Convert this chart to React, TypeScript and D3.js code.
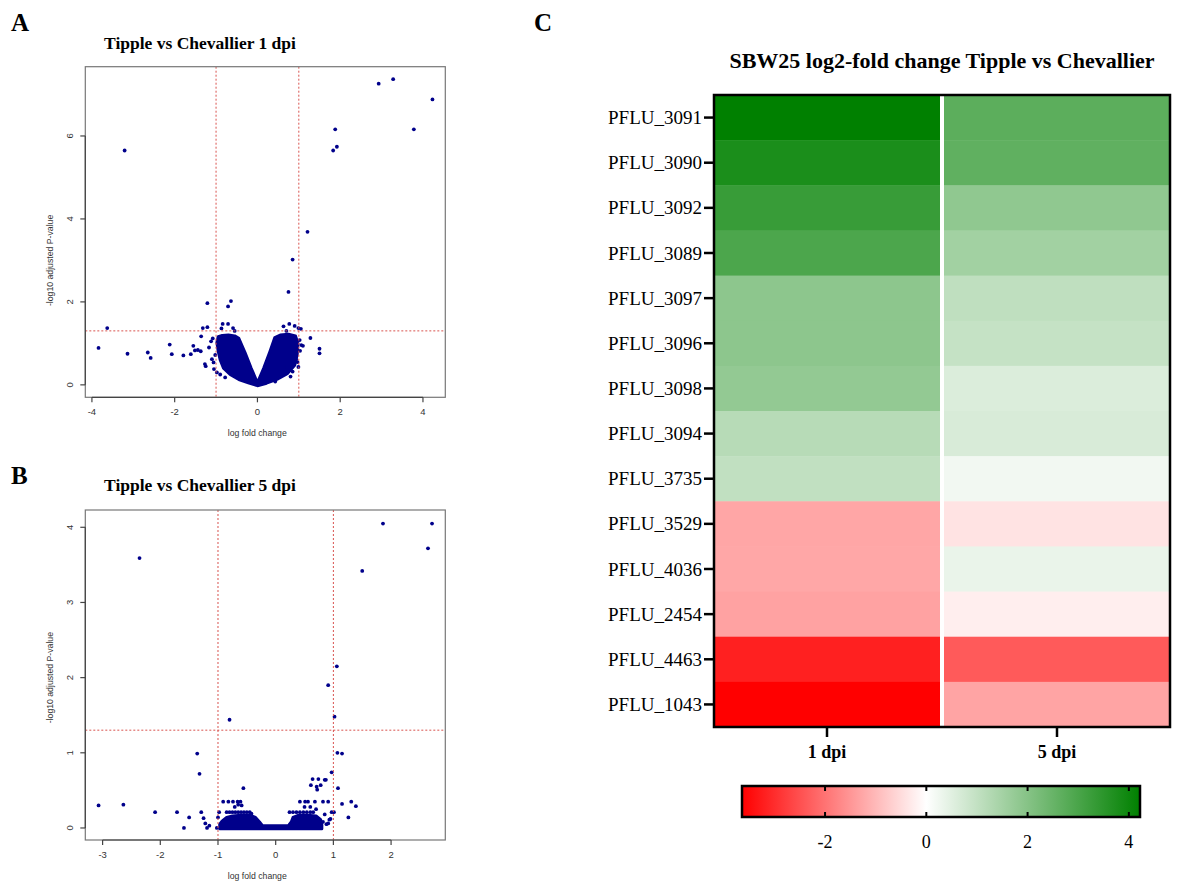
import React from "react";
import * as d3 from "d3";

// ---------- Heatmap data ----------
const genes = [
  "PFLU_3091", "PFLU_3090", "PFLU_3092", "PFLU_3089", "PFLU_3097", "PFLU_3096", "PFLU_3098",
  "PFLU_3094", "PFLU_3735", "PFLU_3529", "PFLU_4036", "PFLU_2454", "PFLU_4463", "PFLU_1043",
];
const timepoints = ["1 dpi", "5 dpi"];
const lfc1dpi = [4.22, 3.77, 3.29, 2.96, 1.89, 1.89, 1.79, 1.19, 1.03, -1.27, -1.25, -1.33, -3.18, -3.64];
const lfc5dpi = [2.7, 2.63, 1.84, 1.54, 1.06, 0.96, 0.6, 0.65, 0.22, -0.4, 0.35, -0.24, -2.36, -1.3];
const colorTicks = [-2, 0, 2, 4];
const colorMin = -3.64;
const colorMax = 4.22;

// ---------- Volcano A (1 dpi) ----------
const aXTicks = [-4, -2, 0, 2, 4];
const aYTicks = [0, 2, 4, 6];
// dense cloud outline [log fold change, -log10 adj p]
const aCloud: [number, number][] = [
  [0, -0.02], [-0.22, 0.05], [-0.45, 0.13], [-0.66, 0.25], [-0.82, 0.4], [-0.9, 0.6],
  [-0.95, 0.82], [-0.98, 1.02], [-0.95, 1.16], [-0.85, 1.19], [-0.7, 1.2], [-0.55, 1.18],
  [-0.45, 1.12], [-0.3, 0.78], [-0.15, 0.4], [0, 0.05], [0.15, 0.4], [0.3, 0.8],
  [0.42, 1.14], [0.55, 1.2], [0.75, 1.22], [0.92, 1.18], [0.98, 1.0], [0.96, 0.72],
  [0.9, 0.47], [0.72, 0.27], [0.47, 0.13], [0.22, 0.04],
];
const aPoints: [number, number][] = [
  [-3.21, 5.65], [1.83, 5.65], [1.92, 5.74], [1.88, 6.16], [2.93, 7.26], [3.28, 7.37],
  [4.23, 6.88], [3.78, 6.16], [1.21, 3.69], [0.85, 3.02], [0.75, 2.24], [-1.21, 1.97],
  [-0.64, 2.02], [-0.71, 1.89], [-3.63, 1.37], [-3.84, 0.89], [-3.14, 0.75], [-2.65, 0.78],
  [-2.58, 0.65], [-2.12, 0.97], [-2.07, 0.74], [-1.79, 0.71], [-1.61, 0.74], [-1.55, 0.94],
  [-1.51, 0.83], [-1.44, 0.84], [-1.37, 0.81], [-1.36, 1.17], [-1.32, 1.37], [-1.21, 1.39],
  [-1.27, 0.5], [-1.25, 0.45], [-1.05, 0.38], [-1.06, 0.54], [-1.17, 0.9], [-1.12, 1.05],
  [-1.08, 1.12], [-1.02, 0.72], [-1.1, 0.62], [-0.84, 1.47], [-0.71, 1.47], [-0.59, 1.37],
  [-0.87, 1.36], [-0.55, 1.3], [-0.98, 0.3], [-0.9, 0.25], [-0.78, 0.18],
  [0.77, 1.47], [0.9, 1.42], [0.63, 1.41], [0.99, 1.37], [1.05, 1.35], [0.7, 1.3],
  [1.28, 1.13], [1.5, 0.87], [1.5, 0.76], [1.06, 0.96], [1.1, 0.94], [1.02, 1.08],
  [0.99, 0.43], [0.85, 0.32], [0.97, 0.55], [0.71, 0.43], [0.43, 0.08], [1.03, 0.82],
  [0.93, 0.62], [0.8, 0.2],
];

// ---------- Volcano B (5 dpi) ----------
const bXTicks = [-3, -2, -1, 0, 1, 2];
const bYTicks = [0, 1, 2, 3, 4];
const bCloud: [number, number][] = [
  [-0.97, -0.01], [-0.97, 0.05], [-0.93, 0.09], [-0.85, 0.14], [-0.75, 0.16], [-0.6, 0.17],
  [-0.45, 0.17], [-0.35, 0.14], [-0.28, 0.08], [-0.23, 0.03], [0.22, 0.03], [0.27, 0.08],
  [0.3, 0.14], [0.4, 0.17], [0.55, 0.17], [0.7, 0.16], [0.78, 0.11], [0.8, 0.04], [0.8, -0.01],
];
const bPoints: [number, number][] = [
  [-2.36, 3.59], [1.5, 3.42], [1.86, 4.05], [2.71, 4.05], [2.64, 3.72], [1.06, 2.15],
  [0.91, 1.9], [1.02, 1.48], [-0.8, 1.44], [-1.36, 0.99], [-1.32, 0.72], [1.07, 1.0],
  [1.15, 0.99], [0.97, 0.74], [1.08, 0.53], [1.15, 0.32], [1.31, 0.35], [1.39, 0.29],
  [1.26, 0.14], [-3.07, 0.3], [-2.64, 0.31], [-2.09, 0.21], [-1.71, 0.21], [-1.5, 0.14],
  [-1.59, 0], [-1.29, 0.21], [-1.25, 0.13], [-1.22, 0.06], [-1.19, 0.0], [-1.15, 0.03],
  [-1.02, 0], [-1.0, 0.14], [-0.98, 0.21], [-0.91, 0.35], [-0.82, 0.35], [-0.74, 0.35],
  [-0.71, 0.28], [-0.65, 0.31], [-0.59, 0.3], [-0.56, 0.53], [-0.66, 0.35], [-0.61, 0.35],
  [-0.85, 0.21], [-0.8, 0.21], [-0.75, 0.21], [-0.7, 0.21], [-0.65, 0.21], [-0.6, 0.21],
  [-0.55, 0.21], [-0.5, 0.21], [-0.45, 0.21], [-0.42, 0.19],
  [0.61, 0.57], [0.64, 0.65], [0.74, 0.65], [0.71, 0.55], [0.72, 0.51], [0.78, 0.57],
  [0.85, 0.64], [0.87, 0.64], [0.42, 0.35], [0.51, 0.35], [0.56, 0.35], [0.68, 0.35],
  [0.82, 0.35], [0.91, 0.35], [0.97, 0.21], [1.01, 0.21], [0.93, 0.11], [0.91, 0.06],
  [0.75, 0.0], [0.95, 0.12], [0.82, 0.08], [0.24, 0.21], [0.3, 0.21], [0.36, 0.21],
  [0.42, 0.21], [0.48, 0.21], [0.54, 0.21], [0.6, 0.21], [0.65, 0.21], [0.5, 0.28],
  [0.6, 0.28], [0.7, 0.25], [0.85, 0.18], [0.88, 0.05],
];

const SANS = "'Liberation Sans', Arial, sans-serif";
const SERIF = "'Liberation Serif', 'Times New Roman', serif";
const NAVY = "#00008b";
const RED_DASH = "#d9534f";

type VolcanoProps = {
  letter: string;
  letterY: number;
  title: string;
  titleY: number;
  xDomain: [number, number];
  yDomain: [number, number];
  box: { left: number; right: number; top: number; bottom: number };
  xTicks: number[];
  yTicks: number[];
  cloud: [number, number][];
  points: [number, number][];
};

function Volcano(p: VolcanoProps) {
  const { box } = p;
  const x = d3.scaleLinear().domain(p.xDomain).range([box.left, box.right]);
  const y = d3.scaleLinear().domain(p.yDomain).range([box.bottom, box.top]);
  const line = d3
    .line<[number, number]>()
    .x((d) => x(d[0]))
    .y((d) => y(d[1]))
    .curve(d3.curveLinearClosed);
  const xMid = (box.left + box.right) / 2;
  const yMid = (y(p.yTicks[0]) + y(p.yTicks[p.yTicks.length - 1])) / 2;
  const xt0 = x(p.xTicks[0]);
  const xt1 = x(p.xTicks[p.xTicks.length - 1]);
  const yt0 = y(p.yTicks[0]);
  const yt1 = y(p.yTicks[p.yTicks.length - 1]);
  return (
    <g>
      <text x={11} y={p.letterY} fontFamily={SERIF} fontWeight="bold" fontSize={25} fill="#000">
        {p.letter}
      </text>
      <text x={200} y={p.titleY} fontFamily={SERIF} fontWeight="bold" fontSize={17.5} textAnchor="middle" fill="#000">
        {p.title}
      </text>
      <defs>
        <clipPath id={"clip" + p.letter}>
          <rect x={box.left} y={box.top} width={box.right - box.left} height={box.bottom - box.top} />
        </clipPath>
      </defs>
      <g clipPath={`url(#clip${p.letter})`}>
        <path d={line(p.cloud) || ""} fill={NAVY} stroke={NAVY} strokeWidth={3} strokeLinejoin="round" />
        {p.points.map((d, i) => (
          <circle key={i} cx={x(d[0])} cy={y(d[1])} r={1.9} fill={NAVY} />
        ))}
        <line x1={x(-1)} x2={x(-1)} y1={box.top} y2={box.bottom} stroke={RED_DASH} strokeDasharray="2,2" strokeWidth={1} />
        <line x1={x(1)} x2={x(1)} y1={box.top} y2={box.bottom} stroke={RED_DASH} strokeDasharray="2,2" strokeWidth={1} />
        <line x1={box.left} x2={box.right} y1={y(-Math.log10(0.05))} y2={y(-Math.log10(0.05))} stroke={RED_DASH} strokeDasharray="2,2" strokeWidth={1} />
      </g>
      <rect x={box.left} y={box.top} width={box.right - box.left} height={box.bottom - box.top} fill="none" stroke="#777" strokeWidth={1.2} />
      {/* x axis */}
      <line x1={xt0} x2={xt1} y1={box.bottom} y2={box.bottom} stroke="#444" strokeWidth={1.2} />
      {p.xTicks.map((t) => (
        <g key={"x" + t}>
          <line x1={x(t)} x2={x(t)} y1={box.bottom} y2={box.bottom + 5} stroke="#444" strokeWidth={1.2} />
          <text x={x(t)} y={box.bottom + 18} fontFamily={SANS} fontSize={9.5} textAnchor="middle" fill="#333">
            {t}
          </text>
        </g>
      ))}
      {/* y axis */}
      <line x1={box.left} x2={box.left} y1={yt0} y2={yt1} stroke="#444" strokeWidth={1.2} />
      {p.yTicks.map((t) => (
        <g key={"y" + t}>
          <line x1={box.left} x2={box.left - 5} y1={y(t)} y2={y(t)} stroke="#444" strokeWidth={1.2} />
          <text
            transform={`translate(${box.left - 12},${y(t)}) rotate(-90)`}
            fontFamily={SANS}
            fontSize={9.5}
            textAnchor="middle"
            fill="#333"
          >
            {t}
          </text>
        </g>
      ))}
      <text x={xMid - 8} y={box.bottom + 39} fontFamily={SANS} fontSize={8.7} textAnchor="middle" fill="#333">
        log fold change
      </text>
      <text
        transform={`translate(${box.left - 32},${yMid}) rotate(-90)`}
        fontFamily={SANS}
        fontSize={8.7}
        textAnchor="middle"
        fill="#333"
      >
        -log10 adjusted P-value
      </text>
    </g>
  );
}

function Heatmap() {
  const left = 714, right = 1170, top = 95, bottom = 727;
  const x = d3.scaleBand<string>().domain(timepoints).range([left, right]).paddingInner(4 / 230);
  const y = d3.scaleBand<string>().domain(genes).range([top, bottom]);
  const color = d3
    .scaleLinear<string>()
    .domain([colorMin, 0, colorMax])
    .range(["#ff0000", "#ffffff", "#008000"])
    .interpolate(d3.interpolateRgb);
  const cols = [lfc1dpi, lfc5dpi];
  const cbLeft = 742, cbRight = 1140, cbTop = 786, cbBottom = 817;
  const cx = d3.scaleLinear().domain([colorMin, colorMax]).range([cbLeft, cbRight]);
  const stops = [colorMin, 0, colorMax];
  return (
    <g>
      <text x={534} y={31} fontFamily={SERIF} fontWeight="bold" fontSize={25} fill="#000">
        C
      </text>
      <text x={(left + right) / 2} y={68} fontFamily={SERIF} fontWeight="bold" fontSize={22} textAnchor="middle" fill="#000">
        SBW25 log2-fold change Tipple vs Chevallier
      </text>
      <rect x={left} y={top} width={right - left} height={bottom - top} fill="#fff" />
      {cols.map((vals, ci) =>
        vals.map((v, ri) => (
          <rect
            key={ci + "-" + ri}
            x={x(timepoints[ci])}
            y={y(genes[ri])}
            width={x.bandwidth()}
            height={y.bandwidth() + 0.5}
            fill={color(v)}
          />
        ))
      )}
      <rect x={left} y={top} width={right - left} height={bottom - top} fill="none" stroke="#000" strokeWidth={2.5} />
      {genes.map((g) => (
        <g key={g}>
          <line x1={left - 10} x2={left} y1={(y(g) || 0) + y.bandwidth() / 2} y2={(y(g) || 0) + y.bandwidth() / 2} stroke="#000" strokeWidth={2.5} />
          <text x={left - 12} y={(y(g) || 0) + y.bandwidth() / 2 + 6.5} fontFamily={SERIF} fontSize={19} textAnchor="end" fill="#000">
            {g}
          </text>
        </g>
      ))}
      {timepoints.map((t) => (
        <g key={t}>
          <line x1={(x(t) || 0) + x.bandwidth() / 2} x2={(x(t) || 0) + x.bandwidth() / 2} y1={bottom} y2={bottom + 10} stroke="#000" strokeWidth={2.5} />
          <text x={(x(t) || 0) + x.bandwidth() / 2} y={758} fontFamily={SERIF} fontWeight="bold" fontSize={18} textAnchor="middle" fill="#000">
            {t}
          </text>
        </g>
      ))}
      <defs>
        <linearGradient id="cbGrad" x1="0" x2="1" y1="0" y2="0">
          {stops.map((s) => (
            <stop key={s} offset={(cx(s) - cbLeft) / (cbRight - cbLeft)} stopColor={color(s)} />
          ))}
        </linearGradient>
      </defs>
      <rect x={cbLeft} y={cbTop} width={cbRight - cbLeft} height={cbBottom - cbTop} fill="url(#cbGrad)" stroke="#000" strokeWidth={2.5} />
      {colorTicks.map((t) => (
        <g key={t}>
          <line x1={cx(t)} x2={cx(t)} y1={cbTop} y2={cbTop + 5} stroke="#000" strokeWidth={2} />
          <line x1={cx(t)} x2={cx(t)} y1={cbBottom} y2={cbBottom - 5} stroke="#000" strokeWidth={2} />
          <text x={cx(t)} y={848} fontFamily={SERIF} fontSize={18} textAnchor="middle" fill="#000">
            {t}
          </text>
        </g>
      ))}
    </g>
  );
}

export default function App() {
  return (
    <svg
      width={1178}
      height={881}
      style={{ position: "absolute", left: 0, top: 0, background: "#fff" }}
    >
      <rect width={1178} height={881} fill="#fff" />
      <Volcano
        letter="A"
        letterY={31}
        title="Tipple vs Chevallier 1 dpi"
        titleY={49}
        xDomain={[-4.16, 4.54]}
        yDomain={[-0.3, 7.67]}
        box={{ left: 85.3, right: 445.3, top: 66.7, bottom: 397.3 }}
        xTicks={aXTicks}
        yTicks={aYTicks}
        cloud={aCloud}
        points={aPoints}
      />
      <Volcano
        letter="B"
        letterY={484}
        title="Tipple vs Chevallier 5 dpi"
        titleY={491}
        xDomain={[-3.3, 2.94]}
        yDomain={[-0.16, 4.23]}
        box={{ left: 85.3, right: 445.3, top: 510, bottom: 840 }}
        xTicks={bXTicks}
        yTicks={bYTicks}
        cloud={bCloud}
        points={bPoints}
      />
      <Heatmap />
    </svg>
  );
}
